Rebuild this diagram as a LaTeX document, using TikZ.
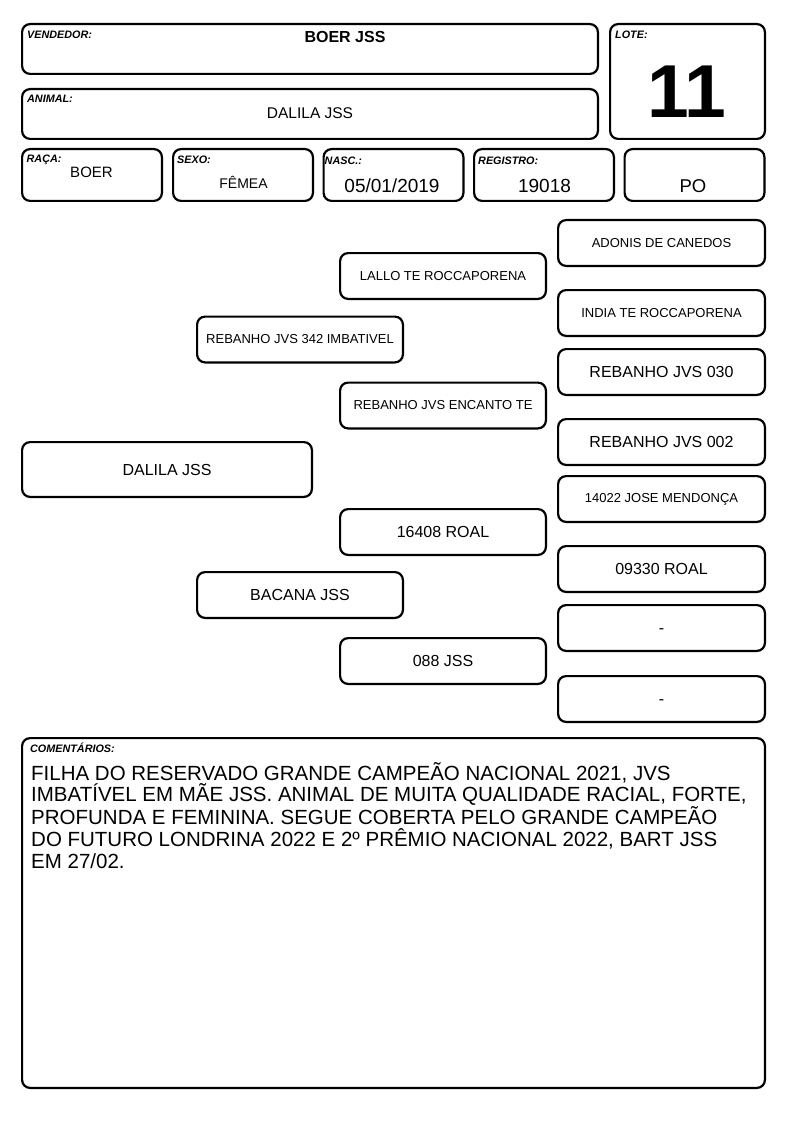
\documentclass[tikz,border=0pt]{standalone}
\usepackage{fontspec}
\setmainfont{Liberation Sans}
\newcommand{\fsz}[1]{\fontsize{#1}{#1}\selectfont}

\tikzset{
  frame/.style={draw, line width=2.2pt, rounded corners=8pt, inner sep=0pt},
  fieldtag/.style={anchor=base west, inner sep=0pt, font=\fsz{10.8}\bfseries\itshape},
  fieldval/.style={anchor=base, inner sep=0pt},
  ped/.style={frame, minimum width=205.8pt, minimum height=45.8pt, font=\fsz{16}},
  pedsmall/.style={font=\fsz{13}},
}

\begin{document}
\begin{tikzpicture}[x=1pt, y=-1pt]
  \useasboundingbox (0,0) rectangle (794,1123);
  % Header boxes
  \node[frame, minimum width=575.8pt, minimum height=49.8pt] (vendedor) at (310,49) {};
  \node[frame, minimum width=575.8pt, minimum height=49.8pt] (animal) at (310,114) {};
  \node[frame, minimum width=154.8pt, minimum height=114.8pt] (lote) at (687.5,81.5) {};
  \node[frame, minimum width=139.8pt, minimum height=51.8pt] (raca) at (92,175) {};
  \node[frame, minimum width=139.8pt, minimum height=51.8pt] (sexo) at (243,175) {};
  \node[frame, minimum width=139.8pt, minimum height=51.8pt] (nasc) at (393.5,175) {};
  \node[frame, minimum width=139.8pt, minimum height=51.8pt] (registro) at (544,175) {};
  \node[frame, minimum width=139.8pt, minimum height=51.8pt] (po) at (694.5,175) {};
  % Field tags
  \node[fieldtag] (vendedor-tag) at (27,39) {VENDEDOR:};
  \node[fieldtag] (animal-tag) at (27,102.5) {ANIMAL:};
  \node[fieldtag] (lote-tag) at (615,39) {LOTE:};
  \node[fieldtag] (raca-tag) at (26.5,162.5) {RAÇA:};
  \node[fieldtag] (sexo-tag) at (177,164) {SEXO:};
  \node[fieldtag] (nasc-tag) at (324.5,165) {NASC.:};
  \node[fieldtag] (registro-tag) at (478,165) {REGISTRO:};
  % Field values
  \node[fieldval, font=\fsz{16}\bfseries] (vendedor-val) at (345,43) {BOER JSS};
  \node[fieldval, font=\fsz{15.5}] (animal-val) at (310,119) {DALILA JSS};
  \node[fieldval, font=\fsz{75}\bfseries] (lote-val) at (687,118) {11};
  \node[fieldval, font=\fsz{15}] (raca-val) at (91.5,178) {BOER};
  \node[fieldval, font=\fsz{14}] (sexo-val) at (243.5,189) {FÊMEA};
  \node[fieldval, font=\fsz{19}] (nasc-val) at (392,193) {05/01/2019};
  \node[fieldval, font=\fsz{19}] (registro-val) at (544.5,193) {19018};
  \node[fieldval, font=\fsz{18.5}] (po-val) at (693,193) {PO};

  % Pedigree
  \node[ped, minimum width=289.8pt, minimum height=54.8pt] (dalila) at (167,469.5) {DALILA JSS};
  \node[ped, pedsmall] (pai) at (300,339.5) {REBANHO JVS 342 IMBATIVEL};
  \node[ped] (mae) at (300,595) {BACANA JSS};
  \node[ped, pedsmall] (avo-pp) at (443,276) {LALLO TE ROCCAPORENA};
  \node[ped, pedsmall] (avo-pm) at (443,405.5) {REBANHO JVS ENCANTO TE};
  \node[ped] (avo-mp) at (443,532) {16408 ROAL};
  \node[ped] (avo-mm) at (443,661) {088 JSS};
  \node[ped, pedsmall, minimum width=206.8pt] (bis1) at (661.5,243) {ADONIS DE CANEDOS};
  \node[ped, pedsmall, minimum width=206.8pt] (bis2) at (661.5,313) {INDIA TE ROCCAPORENA};
  \node[ped, minimum width=206.8pt] (bis3) at (661.5,372) {REBANHO JVS 030};
  \node[ped, minimum width=206.8pt] (bis4) at (661.5,442) {REBANHO JVS 002};
  \node[ped, pedsmall, minimum width=206.8pt] (bis5) at (661.5,499) {14022 JOSE MENDONÇA};
  \node[ped, minimum width=206.8pt] (bis6) at (661.5,569) {09330 ROAL};
  \node[ped, minimum width=206.8pt] (bis7) at (661.5,628) {\vphantom{A}-};
  \node[ped, minimum width=206.8pt] (bis8) at (661.5,699) {\vphantom{A}-};

  % Comments
  \node[frame, minimum width=742.8pt, minimum height=349.8pt] (comentarios) at (393.5,913) {};
  \node[fieldtag] (comentarios-tag) at (30,752.5) {COMENTÁRIOS:};
  \node[anchor=base west, inner sep=0pt, align=left, font=\fontsize{20.5}{21.7}\selectfont] (comentarios-txt) at (31,868) {FILHA DO RESERVADO GRANDE CAMPEÃO NACIONAL 2021, JVS\\
    IMBATÍVEL EM MÃE JSS. ANIMAL DE MUITA QUALIDADE RACIAL, FORTE,\\
    PROFUNDA E FEMININA. SEGUE COBERTA PELO GRANDE CAMPEÃO\\
    DO FUTURO LONDRINA 2022 E 2º PRÊMIO NACIONAL 2022, BART JSS\\
    EM 27/02.};
\end{tikzpicture}
\end{document}
